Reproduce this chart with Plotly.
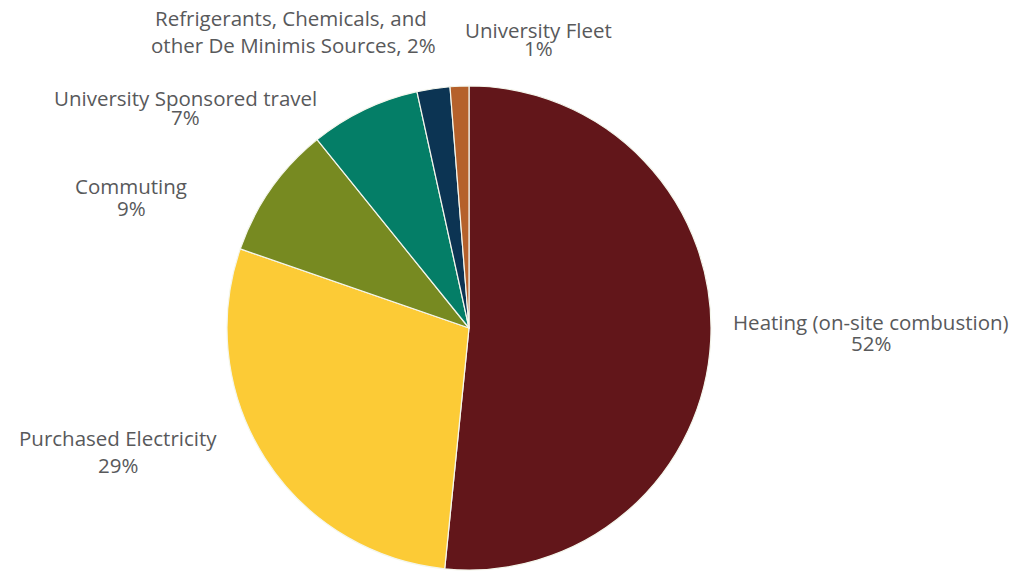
import plotly.graph_objects as go

# Data (clockwise from 12 o'clock)
categories = ["Heating (on-site combustion)", "Purchased Electricity", "Commuting",
              "University Sponsored travel",
              "Refrigerants, Chemicals, and other De Minimis Sources", "University Fleet"]
values = [51.6, 28.7, 8.9, 7.35, 2.2, 1.25]
pct_labels = ["52%", "29%", "9%", "7%", "2%", "1%"]
colors = ["#62161A", "#FCCB36", "#778A21", "#047E67", "#0C3453", "#B5612B"]

W, H = 1025, 571
OFF = 8  # page body margin offset
cx, cy, r = 469 - OFF, 328 - OFF, 242

fig = go.Figure(go.Pie(
    labels=categories, values=values, sort=False, direction="clockwise", rotation=0,
    marker=dict(colors=colors, line=dict(color="#F4F6EC", width=1.2)),
    textinfo="none", hoverinfo="label+percent", showlegend=False,
    domain=dict(x=[(cx - r) / W, (cx + r) / W], y=[(H - cy - r) / H, (H - cy + r) / H]),
))

def px(x, y):
    return (x - OFF) / W, 1 - (y - OFF) / H

font = dict(family="'Open Sans', sans-serif", size=20.5, color="#58595B")
# (line1 text, line1 x,y, line2 text, line2 x,y)
label_lines = [
    (categories[0], 871, 322, pct_labels[0], 871, 343),
    (categories[1], 118, 438, pct_labels[1], 118, 465),
    (categories[2], 131, 186, pct_labels[2], 131, 208),
    (categories[3], 185, 98, pct_labels[3], 185, 117),
    ("Refrigerants, Chemicals, and", 291, 18, "other De Minimis Sources, " + pct_labels[4], 293, 45),
    (categories[5], 538, 30, pct_labels[5], 538, 48),
]
annotations = []
for t1, x1, y1, t2, x2, y2 in label_lines:
    for t, x, y in ((t1, x1, y1), (t2, x2, y2)):
        ax, ay = px(x, y)
        annotations.append(dict(text=t, x=ax, y=ay, xref="paper", yref="paper",
                                showarrow=False, xanchor="center", yanchor="middle",
                                font=font))

fig.update_layout(width=W, height=H, margin=dict(l=0, r=0, t=0, b=0),
                  paper_bgcolor="white", plot_bgcolor="white", annotations=annotations)
fig.write_html("out.html")
